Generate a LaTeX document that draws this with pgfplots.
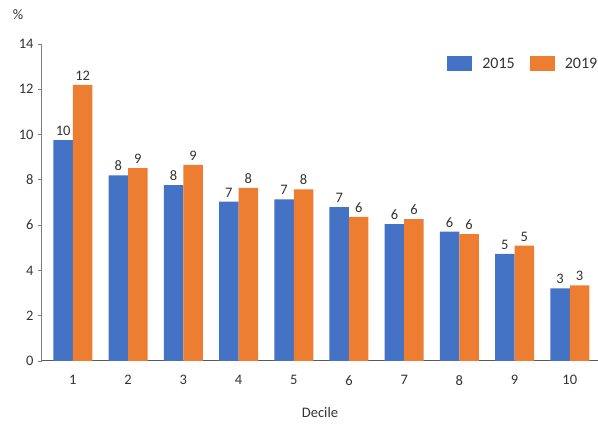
\documentclass[border=0pt]{standalone}
\usepackage{pgfplots}
\pgfplotsset{compat=1.18}
\usepackage{fontspec}
\setmainfont{Carlito}
\definecolor{blueA}{HTML}{4472C4}
\definecolor{orangeA}{HTML}{ED7D31}
\definecolor{txt}{HTML}{333333}
\definecolor{axisgray}{HTML}{7F7F7F}
\newcommand{\chartfont}{\fontsize{14.5}{17}\selectfont}
\begin{document}
\begin{tikzpicture}
\useasboundingbox (0,0) rectangle (598pt,426pt);
\begin{axis}[
  at={(42pt,65pt)}, anchor=south west,
  scale only axis, width=556pt, height=317pt,
  ybar=0pt, bar width=0.353,
  xmin=0.44, xmax=10.51, ymin=0, ymax=14,
  xtick={1,...,10}, ytick={0,2,...,14},
  axis x line=bottom, axis y line=left,
  axis line style={-, axisgray, line width=1pt},
  x axis line style={draw=black!65},
  xtick style={draw=none},
  ytick style={draw=axisgray, line width=0.8pt},
  tick align=outside, major tick length=4pt,
  tick label style={font=\chartfont, text=txt},
  /pgf/number format/assume math mode=true,
  xticklabel style={yshift=-7pt},
  yticklabel style={xshift=-1pt},
  nodes near coords,
  every node near coord/.append style={font=\chartfont, text=txt, yshift=1pt,
    /pgf/number format/fixed, /pgf/number format/precision=0},
  legend style={at={(1.008,0.937)}, anchor=east, draw=none, fill=none,
    legend columns=2, font=\fontsize{16}{18}\selectfont, text=txt,
    /tikz/every odd column/.append style={column sep=8pt},
    /tikz/every even column/.append style={column sep=13pt}},
  legend image code/.code={\fill[#1] (0pt,-7.5pt) rectangle (25pt,7.5pt);},
]
\addplot[fill=blueA, draw=none] coordinates {
  (1,9.76) (2,8.2) (3,7.77) (4,7.04) (5,7.14)
  (6,6.80) (7,6.04) (8,5.71) (9,4.73) (10,3.21)};
\addlegendentry{2015}
\addplot[fill=orangeA, draw=none] coordinates {
  (1,12.19) (2,8.52) (3,8.66) (4,7.65) (5,7.58)
  (6,6.37) (7,6.27) (8,5.60) (9,5.09) (10,3.34)};
\addlegendentry{2019}
\end{axis}
\node[text=txt, font=\chartfont] at (18pt,411pt) {\%};
\node[text=txt, font=\chartfont] at (320pt,13pt) {Decile};
\end{tikzpicture}
\end{document}
